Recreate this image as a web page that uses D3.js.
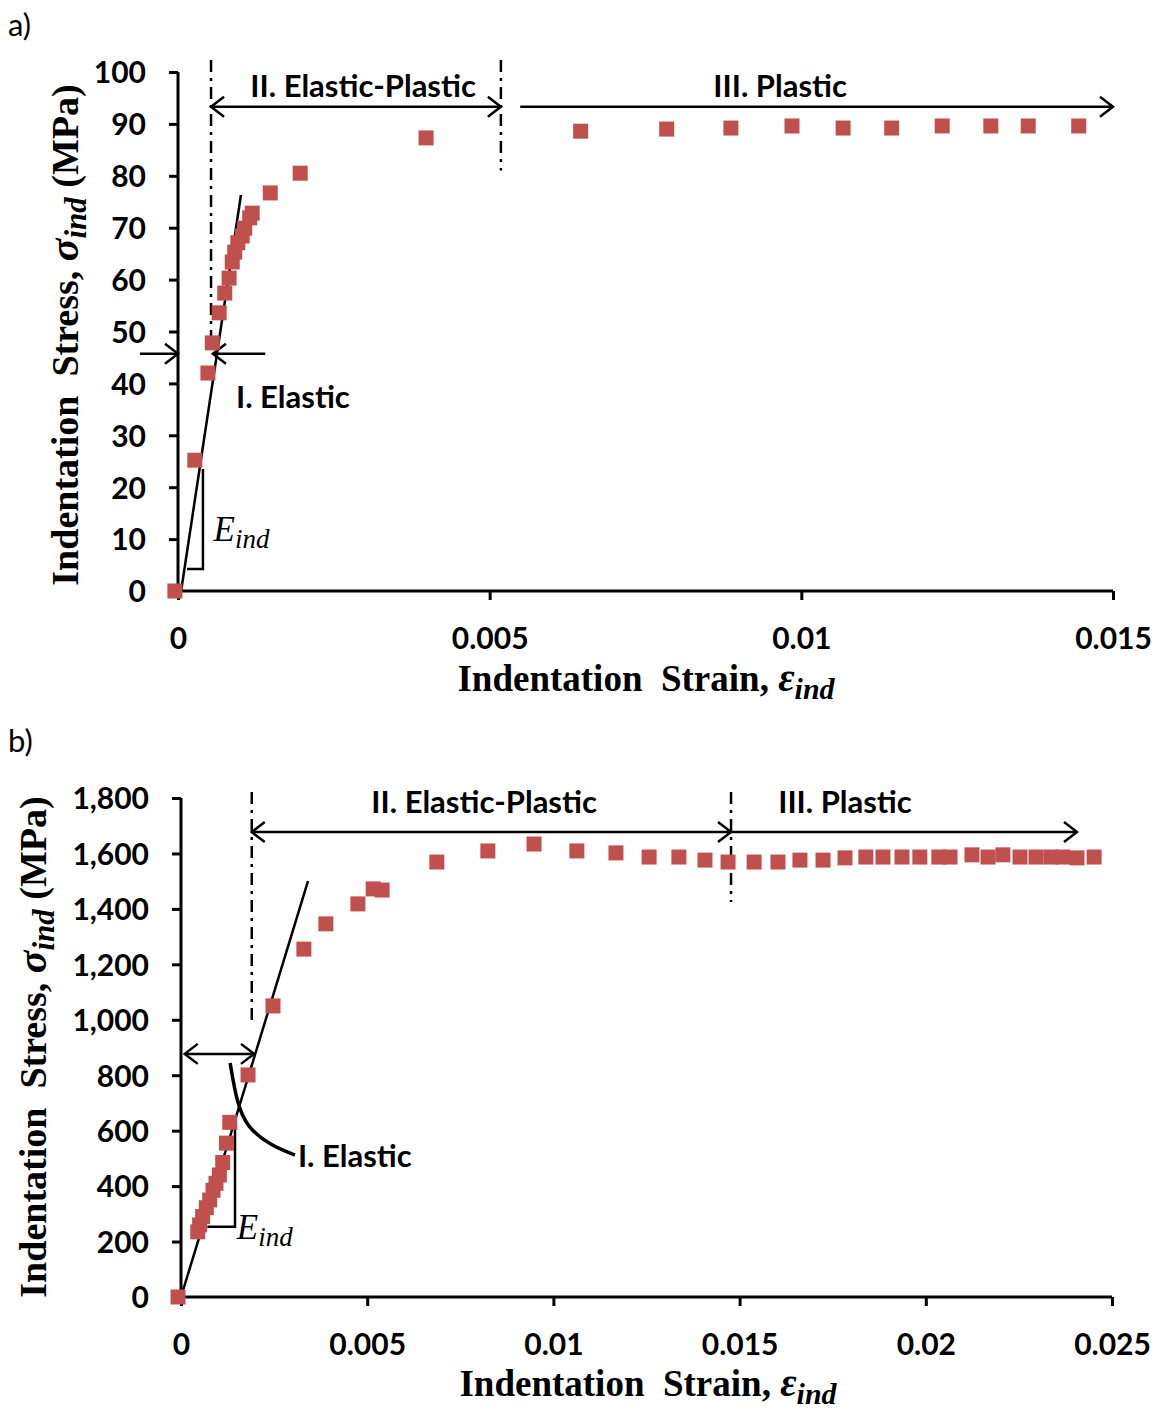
<!DOCTYPE html>
<html><head><meta charset="utf-8">
<script src="https://cdn.jsdelivr.net/npm/d3@7"></script>
<style>body{margin:0;background:#fff}svg{display:block}</style>
</head><body>
<svg id="c" width="1168" height="1409"></svg>
<script>
// ---------- data: panel a ----------
const strainA = [-0.00005,0.00027,0.00048,0.00055,0.00066,0.00075,0.00082,0.00087,0.00091,0.00096,0.00103,0.00107,0.00115,0.00119,0.00148,0.00196,0.00398,0.00646,0.00784,0.00887,0.00985,0.01067,0.01145,0.01226,0.01304,0.01364,0.01445];
const stressA = [0,25.2,42.0,47.8,53.6,57.4,60.3,63.4,65.3,67.1,68.4,69.9,71.9,72.8,76.7,80.5,87.3,88.6,89.0,89.2,89.6,89.2,89.2,89.6,89.6,89.6,89.6];
const xTicksA = [0,0.005,0.01,0.015];
const xTickLabelsA = ["0","0.005","0.01","0.015"];
const yTicksA = [0,10,20,30,40,50,60,70,80,90,100];
// ---------- data: panel b ----------
const strainB = [-0.00008,0.00045,0.0005,0.00058,0.00068,0.00077,0.00086,0.00094,0.00103,0.00112,0.00122,0.00131,0.0018,0.00247,0.0033,0.00389,0.00475,0.00516,0.0054,0.00687,0.00824,0.00948,0.01063,0.01168,0.01257,0.01337,0.01407,0.01469,0.01539,0.01603,0.01662,0.01724,0.01783,0.01839,0.01885,0.01936,0.01984,0.02035,0.02065,0.02124,0.02167,0.02207,0.02253,0.02296,0.02336,0.02368,0.02406,0.02452];
const stressB = [0,235,260,290,322,350,385,410,440,485,555,630,801,1050,1255,1346,1418,1472,1468,1569,1609,1634,1609,1602,1587,1587,1576,1569,1569,1569,1576,1576,1584,1587,1587,1587,1587,1587,1587,1595,1587,1595,1587,1587,1587,1587,1584,1587];
const xTicksB = [0,0.005,0.01,0.015,0.02,0.025];
const xTickLabelsB = ["0","0.005","0.01","0.015","0.02","0.025"];
const yTicksB = [0,200,400,600,800,1000,1200,1400,1600,1800];
// ---------- annotation data ----------
const fitA = [[0.00005,0],[0.00101,76.3]];
const triA = [[0.000144,4.24],[0.0004,4.24],[0.0004,23.5]];
const fitB = [[0,0],[0.00341,1500]];
const triB = [[0.000707,253],[0.00145,253],[0.00145,613]];
const calloutB = [[0.00132,844],[0.00150,700],[0.00177,613],[0.00239,548],[0.00306,512]];

const RED = "#C0504D";
const TICKFONT = "Lato, 'Open Sans', sans-serif";
const SERIF = "'Liberation Serif', 'Times New Roman', serif";
const svg = d3.select("#c");

function panel(cfg){
  const g = svg.append("g");
  const x = d3.scaleLinear().domain(cfg.xDomain).range(cfg.xRange);
  const y = d3.scaleLinear().domain(cfg.yDomain).range(cfg.yRange);
  const xAxis = d3.axisBottom(x).tickValues(cfg.xTicks).tickSize(9)
      .tickFormat((d,i)=>cfg.xTickLabels[i]);
  const yAxis = d3.axisLeft(y).tickValues(cfg.yTicks).tickSize(9)
      .tickFormat(cfg.yFmt);
  const gx = g.append("g").attr("transform",`translate(0,${cfg.yRange[0]})`).call(xAxis);
  const gy = g.append("g").attr("transform",`translate(${cfg.xRange[0]},0)`).call(yAxis);
  [gx,gy].forEach(a=>{
    a.select(".domain").attr("stroke","#000").attr("stroke-width",3);
    a.selectAll(".tick line").attr("stroke","#000").attr("stroke-width",3);
    a.selectAll("text").attr("fill","#000").attr("font-family",TICKFONT)
      .attr("font-weight","bold").attr("font-size",30);
  });
  gx.select(".domain").attr("d",`M${cfg.xRange[0]},0H${cfg.xRange[1]}`);
  gy.select(".domain").attr("d",`M0,${cfg.yRange[0]}V${cfg.yRange[1]}`);
  gx.selectAll("text").attr("dy",null).attr("y",cfg.xLabelDy);
  gy.selectAll("text").attr("x",-cfg.yLabelGap).attr("dy","0.36em");
  return {g,x,y};
}

function arrowHead(g,px,py,dir){
  g.append("path").attr("d",`M${px-dir*13},${py-10}L${px},${py}L${px-dir*13},${py+10}`)
    .attr("fill","none").attr("stroke","#000").attr("stroke-width",2.5);
}
function hArrow(P,x1,x2,yv,heads){
  const px1=P.x(x1), px2=P.x(x2), py=P.y(yv);
  P.g.append("line").attr("x1",px1).attr("x2",px2).attr("y1",py).attr("y2",py)
    .attr("stroke","#000").attr("stroke-width",2.5);
  if(heads.includes("start")) arrowHead(P.g,px1,py,px1<px2?-1:1);
  if(heads.includes("end")) arrowHead(P.g,px2,py,px2>px1?1:-1);
}
function dashDot(P,xv,y1,y2){
  P.g.append("line").attr("x1",P.x(xv)).attr("x2",P.x(xv)).attr("y1",P.y(y1)).attr("y2",P.y(y2))
    .attr("stroke","#000").attr("stroke-width",2.5).attr("stroke-dasharray","12,6,3,6");
}
function label(P,txt,xv,yv,anchor){
  P.g.append("text").attr("x",P.x(xv)).attr("y",P.y(yv)).attr("text-anchor",anchor||"start")
    .attr("font-family",TICKFONT).attr("font-weight","bold").attr("font-size",31).text(txt);
}
function eLabel(P,xv,yv){
  const t=P.g.append("text").attr("x",P.x(xv)).attr("y",P.y(yv))
    .attr("font-family",SERIF).attr("font-style","italic").attr("font-size",35);
  t.append("tspan").text("E");
  t.append("tspan").attr("font-size",27).attr("dy",7).text("ind");
}
function lineThrough(P,pts,w,curve){
  const l=d3.line().x(d=>P.x(d[0])).y(d=>P.y(d[1]));
  if(curve) l.curve(curve);
  P.g.append("path").attr("d",l(pts)).attr("fill","none").attr("stroke","#000").attr("stroke-width",w);
}
function squares(P,xs,ys){
  const s=15;
  P.g.append("g").selectAll("rect").data(xs.map((d,i)=>[d,ys[i]])).join("rect")
    .attr("x",d=>P.x(d[0])-s/2).attr("y",d=>P.y(d[1])-s/2).attr("width",s).attr("height",s)
    .attr("fill",RED);
}
function xTitle(P,cx,by){
  const t=P.g.append("text").attr("x",cx).attr("y",by).attr("text-anchor","middle")
    .attr("font-family",SERIF).attr("font-weight","bold").attr("font-size",37);
  t.append("tspan").text("Indentation\u00a0\u00a0Strain,\u00a0");
  t.append("tspan").attr("font-style","italic").attr("font-weight","bold").attr("font-size",40).text("\u03b5");
  t.append("tspan").attr("font-style","italic").attr("font-weight","bold").attr("font-size",30).attr("dy",8).text("ind");
}
function yTitle(P,cx,cy){
  const t=P.g.append("text").attr("transform",`translate(${cx},${cy}) rotate(-90)`).attr("text-anchor","middle")
    .attr("font-family",SERIF).attr("font-weight","bold").attr("font-size",38);
  t.append("tspan").text("Indentation\u00a0\u00a0Stress,\u00a0");
  t.append("tspan").attr("font-style","italic").attr("font-weight","bold").attr("font-size",42).text("\u03c3");
  t.append("tspan").attr("font-style","italic").attr("font-weight","bold").attr("font-size",31).attr("dy",8).text("ind");
  t.append("tspan").attr("dy",-8).text("\u00a0(MPa)");
}

// ---------- panel a ----------
const A = panel({xDomain:[0,0.015],xRange:[178,1113],yDomain:[0,100],yRange:[591,72],
  xTicks:xTicksA,xTickLabels:xTickLabelsA,yTicks:yTicksA,yFmt:d3.format("d"),xLabelDy:58,yLabelGap:32});
dashDot(A,0.00053,102.3,47.4);
dashDot(A,0.00518,102.3,81);
hArrow(A,0.00053,0.00518,93.3,["start","end"]);
hArrow(A,0.00549,0.015,93.3,["end"]);
hArrow(A,-0.00061,0,45.7,["end"]);
hArrow(A,0.0014,0.00056,45.7,["end"]);
lineThrough(A,fitA,2.5);
lineThrough(A,triA,2.5);
squares(A,strainA,stressA);
label(A,"II. Elastic-Plastic",0.00297,95.2,"middle");
label(A,"III. Plastic",0.00966,95.2,"middle");
label(A,"I. Elastic",0.00093,35.3);
eLabel(A,0.00057,9.6);
xTitle(A,646,691);
yTitle(A,78,335);
svg.append("text").attr("x",8).attr("y",36).attr("font-family",TICKFONT).attr("font-size",31).text("a)");

// ---------- panel b ----------
const B = panel({xDomain:[0,0.025],xRange:[181,1112],yDomain:[0,1800],yRange:[1297,798],
  xTicks:xTicksB,xTickLabels:xTickLabelsB,yTicks:yTicksB,yFmt:d3.format(","),xLabelDy:58,yLabelGap:32});
dashDot(B,0.0019,1822,981);
dashDot(B,0.01477,1822,1425);
hArrow(B,0.0019,0.01477,1677,["start","end"]);
hArrow(B,0.01477,0.02406,1677,["end"]);
hArrow(B,0.0001,0.00196,877,["start","end"]);
lineThrough(B,fitB,2.5);
lineThrough(B,triB,2.5);
squares(B,strainB,stressB);
lineThrough(B,calloutB,3.5,d3.curveBasis);
label(B,"II. Elastic-Plastic",0.00814,1746,"middle");
label(B,"III. Plastic",0.01783,1746,"middle");
label(B,"I. Elastic",0.00314,469);
eLabel(B,0.00150,210);
xTitle(B,648,1396);
yTitle(B,46,1047);
svg.append("text").attr("x",8).attr("y",752).attr("font-family",TICKFONT).attr("font-size",31).text("b)");
</script>
</body></html>
